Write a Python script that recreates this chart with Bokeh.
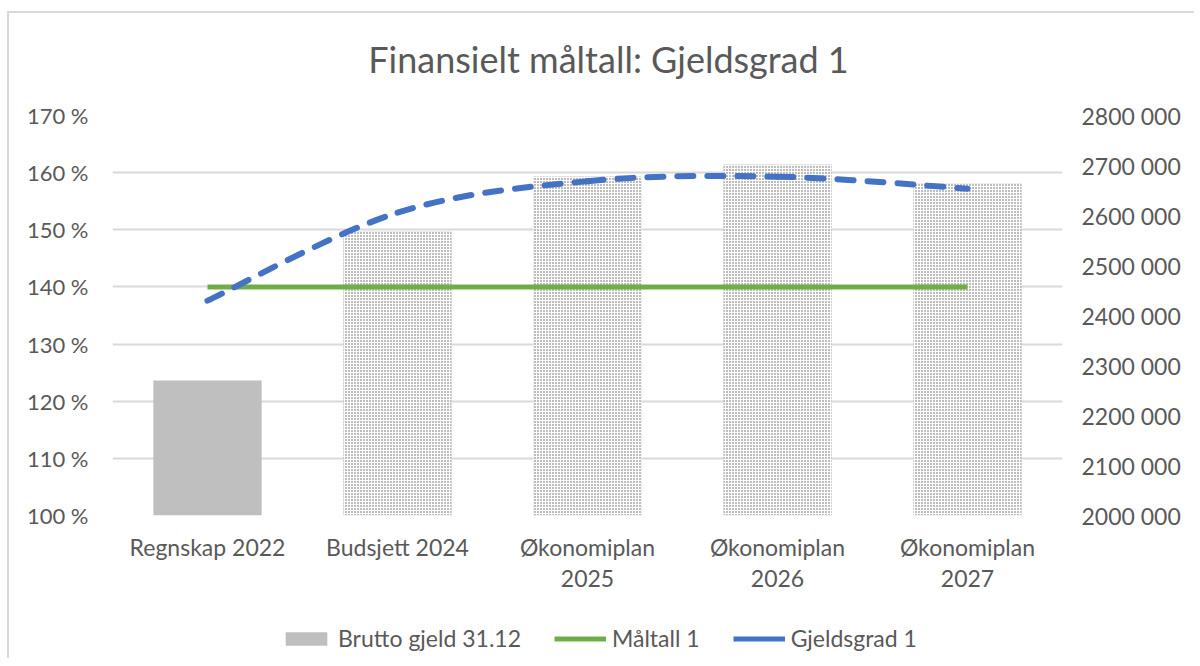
from bokeh.plotting import figure
from bokeh.layouts import column
from bokeh.models import Range1d, LinearAxis, FixedTicker, Legend, LegendItem, Label
from bokeh.embed import file_html
from bokeh.resources import INLINE

# ---- data ----
title_text = "Finansielt måltall: Gjeldsgrad 1"
categories = ["Regnskap 2022", "Budsjett 2024", "Økonomiplan 2025", "Økonomiplan 2026", "Økonomiplan 2027"]
cat_line1 = ["Regnskap 2022", "Budsjett 2024", "Økonomiplan", "Økonomiplan", "Økonomiplan"]
cat_line2 = ["", "", "2025", "2026", "2027"]
brutto_gjeld = [2270000, 2568000, 2678000, 2702000, 2664000]
maltall = [140, 140, 140, 140, 140]
gjeldsgrad = [137.6, 153.0, 158.5, 159.3, 157.2]
left_ticks = [100, 110, 120, 130, 140, 150, 160, 170]
left_labels = ["100 %", "110 %", "120 %", "130 %", "140 %", "150 %", "160 %", "170 %"]
right_ticks = [2000000, 2100000, 2200000, 2300000, 2400000, 2500000, 2600000, 2700000, 2800000]
right_labels = ["2000 000", "2100 000", "2200 000", "2300 000", "2400 000",
                "2500 000", "2600 000", "2700 000", "2800 000"]

FONT = "Lato"
TXT = "#595959"
W = 1185
xs = list(range(len(categories)))


def strip(height):
    f = figure(width=W, height=height, output_backend="svg", toolbar_location=None,
               x_range=Range1d(0, W), y_range=Range1d(0, height),
               x_axis_location=None, y_axis_location=None,
               min_border_left=0, min_border_right=0, min_border_top=0, min_border_bottom=0)
    f.grid.visible = False
    f.outline_line_color = None
    f.background_fill_color = "white"
    f.border_fill_color = "white"
    return f


# ---- title strip (frame is aligned with the chart frame by the column) ----
head = strip(75)
head.add_layout(Label(x=496, y=30, x_units="screen", y_units="screen", text=title_text,
                      text_font=FONT, text_font_size="36px", text_color=TXT,
                      text_align="center", text_baseline="middle"))

# ---- main chart ----
p = figure(width=W, height=520, output_backend="svg", toolbar_location=None,
           x_range=Range1d(-0.5, len(categories) - 0.5), y_range=Range1d(100, 170),
           min_border_left=103, min_border_right=132, min_border_top=27, min_border_bottom=93)
p.extra_y_ranges = {"right": Range1d(2000000, 2800000)}
p.outline_line_color = None
p.background_fill_color = "white"
p.border_fill_color = "white"

p.xgrid.visible = False
p.ygrid.grid_line_color = "#d9d9d9"
p.ygrid.grid_line_width = 2
p.ygrid.ticker = FixedTicker(ticks=left_ticks)

ya = p.yaxis[0]
ya.ticker = FixedTicker(ticks=left_ticks)
ya.major_label_overrides = {t: l for t, l in zip(left_ticks, left_labels)}
xa = p.xaxis[0]
xa.ticker = FixedTicker(ticks=xs)
xa.major_label_overrides = {i: c for i, c in zip(xs, cat_line1)}
xa2 = LinearAxis(ticker=FixedTicker(ticks=xs))
xa2.major_label_overrides = {i: c for i, c in zip(xs, cat_line2)}
p.add_layout(xa2, "below")

ra = LinearAxis(y_range_name="right", ticker=FixedTicker(ticks=right_ticks))
ra.major_label_overrides = {t: l for t, l in zip(right_ticks, right_labels)}
p.add_layout(ra, "right")

for ax in (ya, xa, xa2, ra):
    ax.axis_line_color = None
    ax.major_tick_line_color = None
    ax.minor_tick_line_color = None
    ax.major_label_text_font = FONT
    ax.major_label_text_font_size = "23px"
    ax.major_label_text_color = TXT
ya.major_label_text_font_size = "22px"
ya.major_label_standoff = 18
ra.major_label_standoff = 13
xa.major_label_standoff = 11
xa2.major_label_standoff = 0

# bars
bw = 0.57
p.vbar(x=xs[:1], top=brutto_gjeld[:1], bottom=2000000, width=bw, y_range_name="right",
       fill_color="#bfbfbf", line_color=None)
p.vbar(x=xs[1:], top=brutto_gjeld[1:], bottom=2000000, width=bw, y_range_name="right",
       fill_color="#bdbdbd", line_color=None, hatch_pattern="cross",
       hatch_color="white", hatch_scale=3, hatch_weight=1)

# target line
p.line(xs, maltall, line_color="#70ad47", line_width=5)

# smoothed dashed line (Bezier through the data points, Excel-like smoothing)
n = len(xs)
def tangent(arr, i):
    a = arr[max(i - 1, 0)]
    b = arr[min(i + 1, n - 1)]
    return (b - a) / 2.0
x0, y0, x1, y1, cx0, cy0, cx1, cy1 = [], [], [], [], [], [], [], []
for i in range(n - 1):
    x0.append(xs[i]); y0.append(gjeldsgrad[i])
    x1.append(xs[i + 1]); y1.append(gjeldsgrad[i + 1])
    cx0.append(xs[i] + tangent(xs, i) / 3.0)
    cy0.append(gjeldsgrad[i] + tangent(gjeldsgrad, i) / 3.0)
    cx1.append(xs[i + 1] - tangent(xs, i + 1) / 3.0)
    cy1.append(gjeldsgrad[i + 1] - tangent(gjeldsgrad, i + 1) / 3.0)
p.bezier(x0=x0, y0=y0, x1=x1, y1=y1, cx0=cx0, cy0=cy0, cx1=cx1, cy1=cy1,
         line_color="#4472c4", line_width=6, line_dash="16 14", line_cap="round")

# ---- legend strip ----
leg = strip(50)
r_bar = leg.vbar(x=[float("nan")], top=[float("nan")], width=1, fill_color="#bfbfbf", line_color=None)
r_green = leg.line(x=[float("nan")], y=[float("nan")], line_color="#70ad47", line_width=5)
r_blue = leg.line(x=[float("nan")], y=[float("nan")], line_color="#4472c4", line_width=5)

legend = Legend(items=[LegendItem(label="Brutto gjeld 31.12", renderers=[r_bar]),
                       LegendItem(label="Måltall 1", renderers=[r_green]),
                       LegendItem(label="Gjeldsgrad 1", renderers=[r_blue])],
                orientation="horizontal", location=(168, 6))
legend.label_text_font = FONT
legend.label_text_font_size = "23px"
legend.label_text_color = TXT
legend.glyph_width = 52
legend.glyph_height = 17
legend.label_standoff = 6
legend.spacing = 33
legend.padding = 5
legend.margin = 0
legend.border_line_color = None
legend.background_fill_alpha = 0
leg.add_layout(legend, "center")

layout = column(head, p, leg, spacing=0, margin=(11, 0, 0, 7),
                styles={"border-left": "2px solid #d9d9d9", "border-top": "2px solid #d9d9d9"})

open("out.html", "w").write(file_html(layout, INLINE))
